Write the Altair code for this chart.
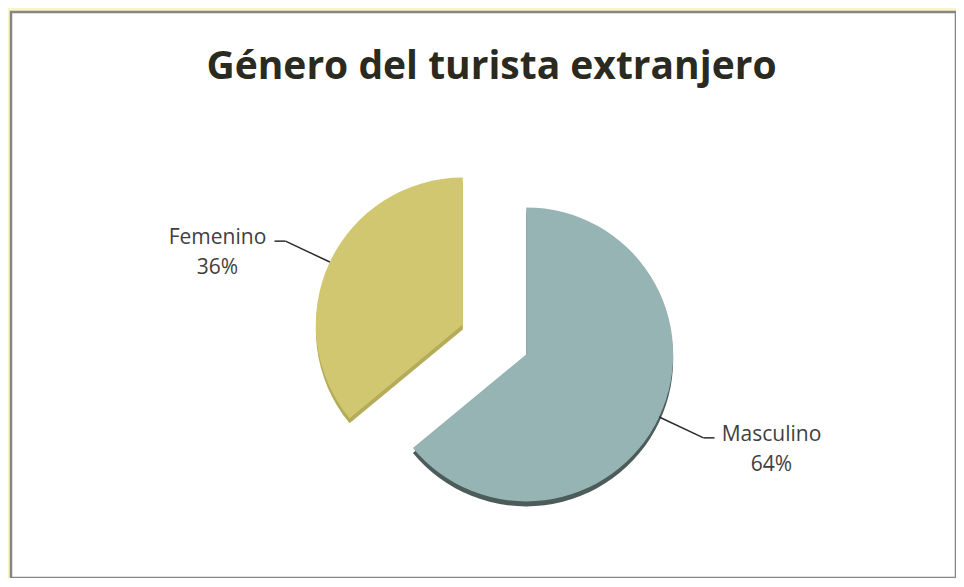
import math
import altair as alt
import pandas as pd

# ---- data ----
categories = ["Masculino", "Femenino"]
values = [64, 36]
order = [0, 1]

# ---- styles ----
slice_colors = ["#95B4B3", "#D0C770"]
side_colors = ["#4C5C5A", "#B4AC59"]

df = pd.DataFrame({"genero": categories, "pct": values, "orden": order})

# layout constants (view pixels)
CX, CY = 483.5, 327.5   # pie centre
EXPLODE = 35            # explosion distance
R = 147                 # pie radius
R_ELBOW = 196           # leader elbow radius
DEPTH = 5               # 3D thickness

base = (
    alt.Chart(df)
    .transform_window(end="sum(pct)", sort=[alt.SortField("orden")], frame=[None, 0])
    .transform_joinaggregate(total="sum(pct)")
    .transform_calculate(
        start="datum.end - datum.pct",
        mid="(datum.end - datum.pct / 2) / datum.total * 2 * PI",
        label="datum.genero + '\\n' + datum.pct + '%'",
    )
    .transform_calculate(
        sx=f"{CX} + {EXPLODE} * sin(datum.mid)",
        sy=f"{CY} - {EXPLODE} * cos(datum.mid)",
        side="sin(datum.mid) > 0 ? 1 : -1",
    )
    .transform_calculate(
        sy_depth=f"datum.sy + {DEPTH}",
        ex=f"datum.sx + {R} * sin(datum.mid)",
        ey=f"datum.sy - {R} * cos(datum.mid)",
        kx=f"datum.sx + {R_ELBOW} * sin(datum.mid)",
        ky=f"datum.sy - {R_ELBOW} * cos(datum.mid)",
    )
    .transform_calculate(
        lx="datum.kx + datum.side * 11",
        tx="datum.kx + datum.side * 68",
        ty="datum.ky - 3",
    )
)

theta_scale = alt.Scale(domain=[0, 100], range=[0, 2 * math.pi])

depth = base.mark_arc(radius=R).encode(
    x=alt.X("sx:Q", scale=None, axis=None),
    y=alt.Y("sy_depth:Q", scale=None, axis=None),
    theta=alt.Theta("start:Q", scale=theta_scale, stack=False),
    theta2="end:Q",
    color=alt.Color("genero:N", scale=alt.Scale(domain=categories, range=side_colors), legend=None),
)

slices = base.mark_arc(radius=R).encode(
    x=alt.X("sx:Q", scale=None, axis=None),
    y=alt.Y("sy:Q", scale=None, axis=None),
    theta=alt.Theta("start:Q", scale=theta_scale, stack=False),
    theta2="end:Q",
    fill=alt.Fill("genero:N", scale=alt.Scale(domain=categories, range=slice_colors), legend=None),
)

leader1 = base.mark_rule(color="#2b2b2b", strokeWidth=1.5).encode(
    x=alt.X("ex:Q", scale=None, axis=None),
    y=alt.Y("ey:Q", scale=None, axis=None),
    x2="kx:Q",
    y2="ky:Q",
)
leader2 = base.mark_rule(color="#2b2b2b", strokeWidth=1.5).encode(
    x=alt.X("kx:Q", scale=None, axis=None),
    y=alt.Y("ky:Q", scale=None, axis=None),
    x2="lx:Q",
    y2="ky:Q",
)

labels = base.mark_text(
    font="Open Sans", fontSize=21, color="#3F3F3F", lineBreak="\n",
    lineHeight=30, align="center", baseline="middle",
).encode(
    x=alt.X("tx:Q", scale=None, axis=None),
    y=alt.Y("ty:Q", scale=None, axis=None),
    text="label:N",
)

chart = (
    alt.layer(depth, slices, leader1, leader2, labels)
    .resolve_scale(color="independent")
    .properties(
        width=945,
        height=566,
        padding={"left": 3, "top": 4, "right": 0, "bottom": 0},
        background="#FBF4C8",
        title=alt.TitleParams(
            "Género del turista extranjero",
            font="Open Sans", fontSize=39, fontWeight="bold", color="#2B2A20",
            anchor="middle", offset=-75, dx=8,
        ),
    )
    .configure_view(fill="white", stroke="#858585", strokeWidth=2.5)
)

chart.save("out.html", embed_options={"renderer": "svg", "actions": False})
